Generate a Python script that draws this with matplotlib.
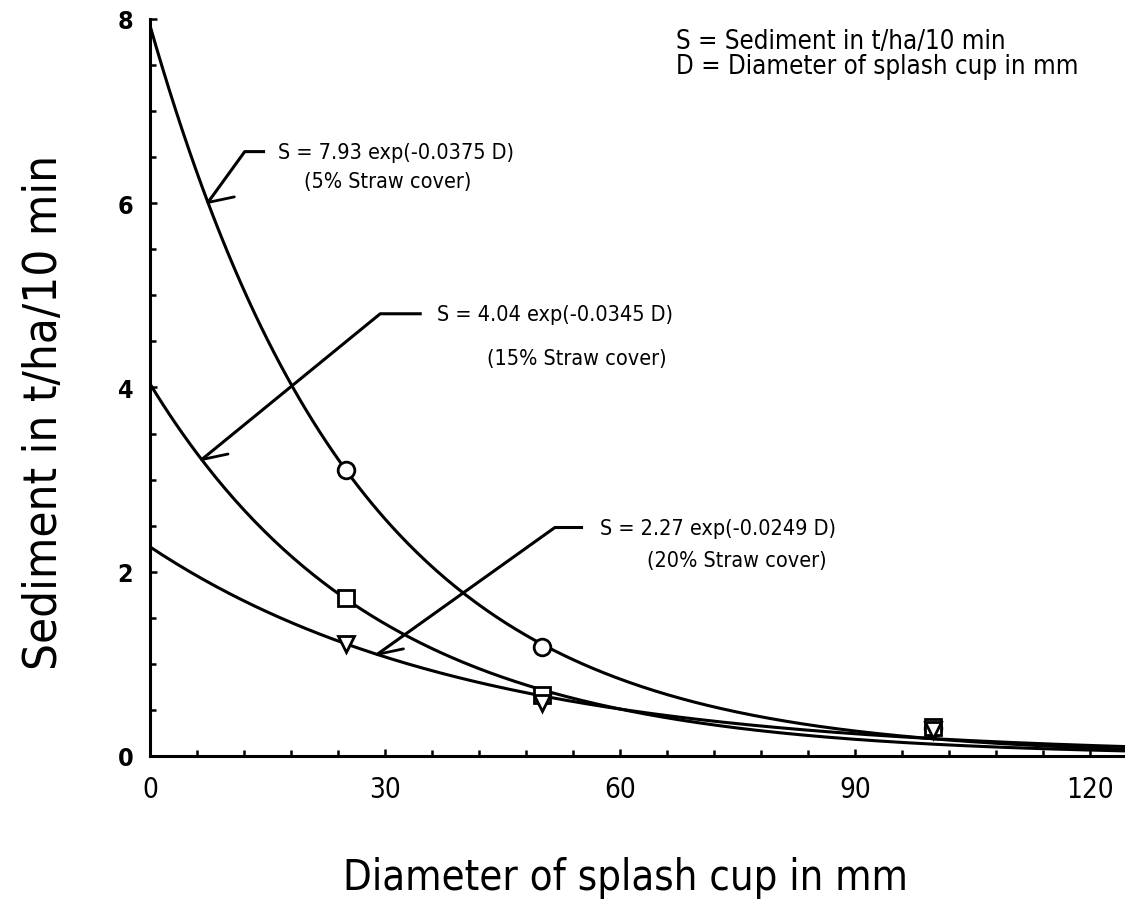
import numpy as np
import matplotlib
matplotlib.use("Agg")
import matplotlib.pyplot as plt
from matplotlib.ticker import MultipleLocator

plt.rcParams['font.family'] = ['DejaVu Sans']
plt.rcParams['font.stretch'] = 'condensed'

# fitted curves S = a * exp(b * D)
labels = ["5% Straw cover", "15% Straw cover", "20% Straw cover"]
coef_a = [7.93, 4.04, 2.27]
coef_b = [-0.0375, -0.0345, -0.0249]

# measured points (cup diameter in mm)
diam = [25, 50, 100]
sed_5 = [3.10, 1.18, 0.30]
sed_15 = [1.72, 0.66, 0.32]
sed_20 = [1.22, 0.58, 0.28]

fig = plt.figure(figsize=(11.25, 9.03), dpi=100)
ax = fig.add_axes([0.1333, 0.1617, 0.8667, 0.8162])

d = np.linspace(0, 124.5, 300)
for a, b in zip(coef_a, coef_b):
    ax.plot(d, a * np.exp(b * d), color='black', lw=2.2, zorder=2)

mk = dict(color='black', mfc='white', mew=2.0, ls='none', zorder=3)
ax.plot(diam, sed_5, marker='o', ms=12, **mk)
ax.plot(diam, sed_15, marker='s', ms=11, **mk)
ax.plot(diam, sed_20, marker='v', ms=11, **mk)

ax.set_xlim(0, 124.5)
ax.set_ylim(0, 8)
ax.spines['top'].set_visible(False)
ax.spines['right'].set_visible(False)
ax.spines['left'].set_linewidth(2.2)
ax.spines['bottom'].set_linewidth(2.2)

ax.xaxis.set_major_locator(MultipleLocator(30))
ax.xaxis.set_minor_locator(MultipleLocator(6))
ax.yaxis.set_major_locator(MultipleLocator(2))
ax.yaxis.set_minor_locator(MultipleLocator(0.5))
ax.tick_params(which='both', direction='in', width=1.8)
ax.tick_params(which='major', length=5)
ax.tick_params(which='minor', length=4)
ax.tick_params(axis='x', labelsize=20, pad=14)
ax.tick_params(axis='y', labelsize=18, pad=12)
for t in ax.get_yticklabels():
    t.set_fontweight('bold')

ax.set_xlabel('Diameter of splash cup in mm', fontsize=30, va='center')
ax.xaxis.set_label_coords(0.488, -0.164)
ax.set_ylabel('Sediment in t/ha/10 min', fontsize=34, va='center')
ax.yaxis.set_label_coords(-0.108, 0.468)

# key in the upper right
ax.text(67.2, 7.62, 'S = Sediment in t/ha/10 min\nD = Diameter of splash cup in mm',
        fontsize=18.5, va='center', ha='left', linespacing=0.95)

# equation labels with elbow leaders
eqs = ["S = 7.93 exp(-0.0375 D)", "S = 4.04 exp(-0.0345 D)", "S = 2.27 exp(-0.0249 D)"]
txt_xy = [(16.3, 6.56), (36.7, 4.80), (57.5, 2.48)]
sub_xy = [(19.7, 6.24), (43.0, 4.32), (63.5, 2.13)]
elbow = [(12.1, 6.56), (29.4, 4.80), (51.7, 2.48)]
start_x = [14.7, 34.7, 55.3]
tip_x = [7.4, 6.6, 29.0]

for i in range(3):
    ax.text(txt_xy[i][0], txt_xy[i][1], eqs[i], fontsize=15.5, va='center', ha='left')
    ax.text(sub_xy[i][0], sub_xy[i][1], '(' + labels[i] + ')', fontsize=15.5, va='center', ha='left')
    tx = tip_x[i]
    ty = coef_a[i] * np.exp(coef_b[i] * tx)
    ax.plot([start_x[i], elbow[i][0], tx], [elbow[i][1], elbow[i][1], ty],
            color='black', lw=2.2, zorder=2, solid_capstyle='butt')
    ax.annotate('', xy=(tx, ty), xytext=(19, 4), textcoords='offset points',
                arrowprops=dict(arrowstyle='-', lw=2.0, color='black', shrinkA=0, shrinkB=0))

fig.savefig('out.png', dpi=100)
